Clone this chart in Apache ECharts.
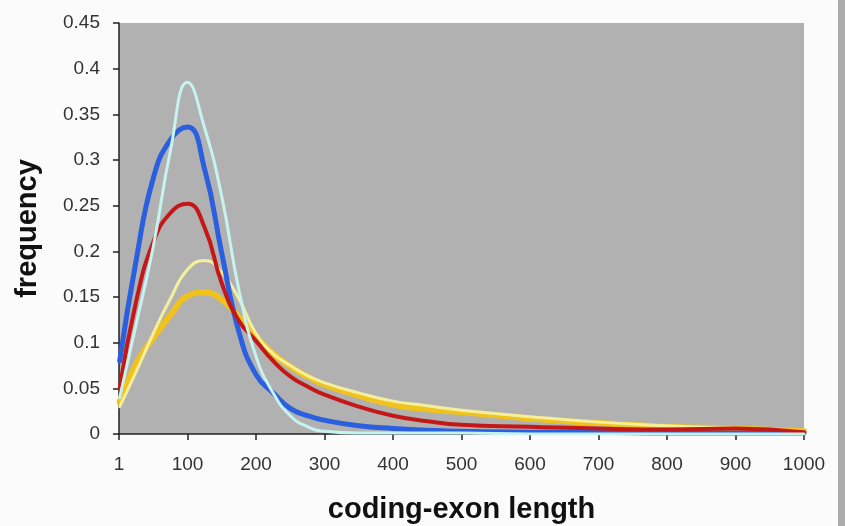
<!DOCTYPE html>
<html>
<head>
<meta charset="utf-8">
<script src="https://cdn.jsdelivr.net/npm/echarts@6/dist/echarts.min.js"></script>
<style>
  html, body { margin: 0; padding: 0; background: #fbfbfb; }
  #chart { width: 845px; height: 526px; }
  .edge { position: absolute; left: 838px; top: 0; width: 7px; height: 526px; background: #ababab; }
</style>
</head>
<body>
<div id="chart"></div>
<div class="edge"></div>
<script>
// exon length sample points (x axis)
const lengths = [1, 25, 50, 75, 100, 125, 150, 175, 200, 225, 250, 275, 300, 350, 400, 450, 500, 600, 700, 800, 900, 1000]

// frequency curves
const goldFreq = [0.035, 0.077, 0.105, 0.13, 0.151, 0.155, 0.147, 0.128, 0.107, 0.088, 0.074, 0.063, 0.054, 0.042, 0.032, 0.027, 0.024, 0.017, 0.012, 0.008, 0.006, 0.003]
const paleFreq = [0.03, 0.068, 0.11, 0.148, 0.18, 0.19, 0.177, 0.148, 0.11, 0.088, 0.075, 0.064, 0.056, 0.045, 0.036, 0.031, 0.026, 0.019, 0.013, 0.009, 0.006, 0.003]
const blueFreq = [0.08, 0.19, 0.28, 0.322, 0.336, 0.29, 0.198, 0.112, 0.065, 0.045, 0.028, 0.02, 0.015, 0.009, 0.006, 0.004, 0.003, 0.002, 0.002, 0.001, 0.001, 0.001]
const redFreq = [0.05, 0.145, 0.21, 0.242, 0.252, 0.226, 0.165, 0.124, 0.102, 0.08, 0.063, 0.052, 0.043, 0.03, 0.02, 0.014, 0.01, 0.008, 0.006, 0.005, 0.006, 0.002]
const cyanFreq = [0.04, 0.12, 0.205, 0.31, 0.385, 0.335, 0.26, 0.158, 0.085, 0.045, 0.02, 0.008, 0.003, 0.001, 0.001, 0.001, 0.001, 0, 0, 0, 0, 0]

const xTicks = [0, 100, 200, 300, 400, 500, 600, 700, 800, 900, 1000]

function pairs(ys) {
  return lengths.map((x, i) => [x, ys[i]])
}

function curve(name, ys, color, width) {
  return {
    name: name,
    type: 'line',
    smooth: 0.5,
    symbol: 'none',
    data: pairs(ys),
    lineStyle: { color: color, width: width, cap: 'round', join: 'round' }
  }
}

const myChart = echarts.init(document.getElementById('chart'))
const option = {
  animation: false,
  grid: {
    left: 119, right: 41, top: 23, bottom: 92,
    outerBoundsMode: 'none',
    show: true, backgroundColor: '#b1b1b1', borderWidth: 0
  },
  xAxis: {
    type: 'value',
    min: 0, max: 1000, interval: 100,
    name: 'coding-exon length',
    nameLocation: 'middle',
    nameGap: 61,
    nameTextStyle: { fontFamily: 'Liberation Sans', fontWeight: 'bold', fontSize: 29, color: '#111' },
    axisLine: { show: true, lineStyle: { color: '#222', width: 1.5 } },
    axisTick: { show: true, length: 6, lineStyle: { color: '#222', width: 1.5 } },
    axisLabel: {
      margin: 21,
      fontFamily: 'Liberation Sans', fontSize: 19, color: '#333',
      formatter: v => (v === xTicks[0] ? '1' : String(v))
    },
    splitLine: { show: false }
  },
  yAxis: {
    type: 'value',
    min: 0, max: 0.45, interval: 0.05,
    name: 'frequency',
    nameLocation: 'middle',
    nameGap: 77,
    nameTextStyle: { fontFamily: 'Liberation Sans', fontWeight: 'bold', fontSize: 29, color: '#111' },
    axisLine: { show: true, lineStyle: { color: '#222', width: 1.5 } },
    axisTick: { show: true, length: 6, lineStyle: { color: '#222', width: 1.5 } },
    axisLabel: {
      margin: 19,
      fontFamily: 'Liberation Sans', fontSize: 19, color: '#333',
      formatter: v => String(+v.toFixed(2))
    },
    splitLine: { show: false }
  },
  series: [
    curve('gold', goldFreq, '#f0c21e', 6),
    curve('pale', paleFreq, '#f3ef9c', 3),
    curve('blue', blueFreq, '#2a5fe0', 5),
    curve('red', redFreq, '#c41818', 4),
    curve('cyan', cyanFreq, '#c6f3f0', 3)
  ]
}
myChart.setOption(option)
</script>
</body>
</html>
